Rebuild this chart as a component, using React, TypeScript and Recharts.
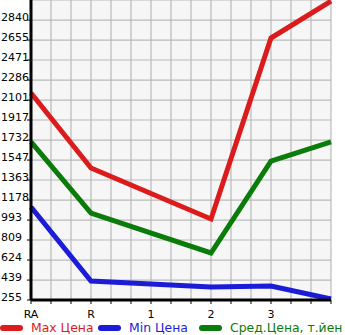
import React from 'react';
import { LineChart, Line, XAxis, YAxis, CartesianGrid, Legend } from 'recharts';

const xLabels = ['RA', 'R', '1', '2', '3', ''];
const maxPrice = [2166, 1474, 1240, 1003, 2674, 3015];
const minPrice = [1114, 430, 403, 375, 384, 264];
const avgPrice = [1714, 1058, 874, 689, 1538, 1714];
const yTicks = [255, 439, 624, 809, 993, 1178, 1363, 1547, 1732, 1917, 2101, 2286, 2471, 2655, 2840];
const seriesNames = ['Max Цена', 'Min Цена', 'Сред.Цена, т.йен'];
const seriesColors = ['#dc1c1c', '#1c1cd8', '#0a7c0a'];

// middle "1" point lies on the straight segment between R and 2 in the picture
const data = xLabels.map((label, i) => ({
  x: i,
  max: i === 2 ? undefined : maxPrice[i],
  min: i === 2 ? undefined : minPrice[i],
  avg: i === 2 ? undefined : avgPrice[i],
}));

const xTicks: number[] = [];
for (let i = 0; i <= 15; i++) xTicks.push(i / 3);

const FONT = '"DejaVu Sans", sans-serif';

const YTick = (props: any) => {
  const { y, payload } = props;
  return (
    <text x={1} y={y + 1} textAnchor="start" fontSize={11} fontFamily={FONT} fill="#000">
      {payload.value}
    </text>
  );
};

const XTick = (props: any) => {
  const { x, y, payload } = props;
  const v = payload.value;
  const idx = Math.round(v);
  if (Math.abs(v - idx) > 1e-6) return null;
  const label = xLabels[idx] || '';
  return (
    <text x={x} y={y + 12} textAnchor="middle" fontSize={11} fontFamily={FONT} fill="#000">
      {label}
    </text>
  );
};

const LegendContent = () => (
  <div style={{ position: 'relative', height: 16, fontFamily: FONT, fontSize: 12.4 }}>
    {seriesNames.map((name, i) => {
      const lefts = [0, 98, 199];
      return (
        <div key={name} style={{ position: 'absolute', left: lefts[i], top: 0, display: 'flex', alignItems: 'center', whiteSpace: 'nowrap' }}>
          <span style={{ display: 'inline-block', width: 23, height: 6, borderRadius: 3, background: seriesColors[i], marginRight: 8 }} />
          <span style={{ color: seriesColors[i] }}>{name}</span>
        </div>
      );
    })}
  </div>
);

export default function App() {
  return (
    <div style={{ position: 'absolute', left: 0, top: 0 }}>
      <LineChart width={345} height={335} data={data} margin={{ top: 0, right: 14, left: 0, bottom: 0 }}>
        <CartesianGrid stroke="#bababa" strokeWidth={1.2} fill="#f6f6f6" />
        <XAxis
          dataKey="x"
          type="number"
          domain={[0, 5]}
          ticks={xTicks}
          interval={0}
          height={20}
          tick={<XTick />}
          tickSize={4}
          tickLine={{ stroke: '#000', strokeWidth: 1 }}
          axisLine={{ stroke: '#000', strokeWidth: 3 }}
        />
        <YAxis
          type="number"
          domain={[255, 3025]}
          ticks={yTicks}
          interval={0}
          width={31}
          tick={<YTick />}
          tickSize={4}
          tickLine={{ stroke: '#000', strokeWidth: 1 }}
          axisLine={{ stroke: '#000', strokeWidth: 3 }}
          allowDataOverflow
        />
        <Legend verticalAlign="bottom" height={15} content={<LegendContent />} />
        <Line dataKey="max" stroke={seriesColors[0]} strokeWidth={5} dot={false} connectNulls isAnimationActive={false} />
        <Line dataKey="min" stroke={seriesColors[1]} strokeWidth={5} dot={false} connectNulls isAnimationActive={false} />
        <Line dataKey="avg" stroke={seriesColors[2]} strokeWidth={5} dot={false} connectNulls isAnimationActive={false} />
      </LineChart>
    </div>
  );
}
